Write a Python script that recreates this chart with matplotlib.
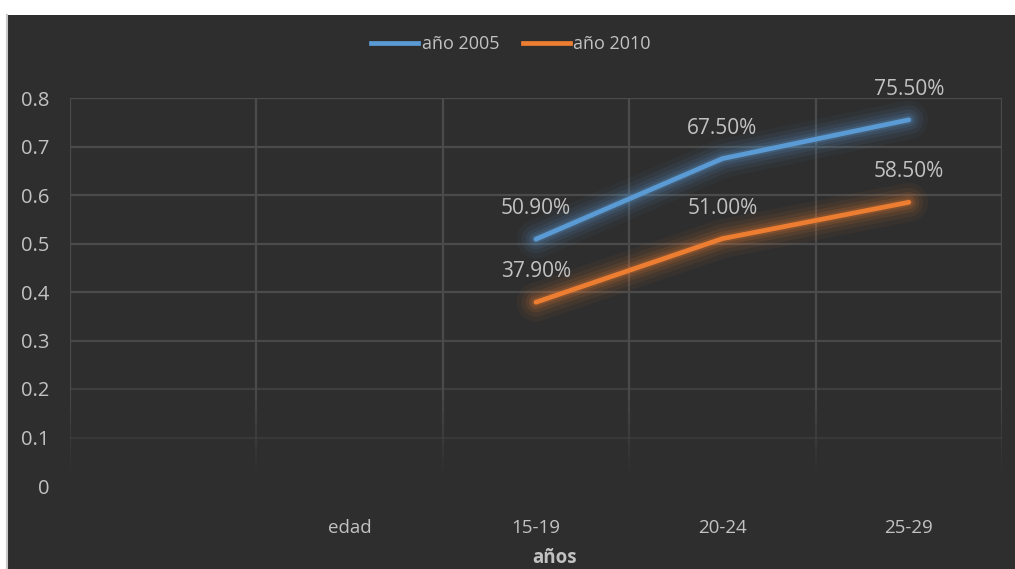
import numpy as np
import matplotlib
matplotlib.use("Agg")
import matplotlib.pyplot as plt
from matplotlib.patches import Rectangle
from matplotlib.lines import Line2D

# ---- data ----
categories = ["", "edad", "15-19", "20-24", "25-29"]
age_groups = ["15-19", "20-24", "25-29"]
serie_2005 = [0.509, 0.675, 0.755]
serie_2010 = [0.379, 0.510, 0.585]
labels_2005 = ["50.90%", "67.50%", "75.50%"]
labels_2010 = ["37.90%", "51.00%", "58.50%"]
y_ticks = [0, 0.1, 0.2, 0.3, 0.4, 0.5, 0.6, 0.7, 0.8]
y_tick_labels = ["0", "0.1", "0.2", "0.3", "0.4", "0.5", "0.6", "0.7", "0.8"]

BG = "#2e2e2e"
GRID = "#4b4b4b"
TEXT = "#c2c2c2"
BLUE = "#5b9bd5"
ORANGE = "#ed7d31"
FONT = "Open Sans"

W, H = 1015, 569
fig = plt.figure(figsize=(W / 100, H / 100), dpi=100, facecolor="white")

# dark chart panel with a thin grey rule on the left edge
fig.patches.append(Rectangle((8 / W, 0), 1 - 8 / W, 1 - 15 / H,
                             transform=fig.transFigure, facecolor=BG,
                             edgecolor="none", zorder=-5))
fig.add_artist(Line2D([7 / W, 7 / W], [0, 1 - 15 / H], transform=fig.transFigure,
                      color="#c8c8c8", lw=1.5, zorder=-4))

ax = fig.add_axes([70 / W, (H - 486) / H, (1002 - 70) / W, (486 - 98) / H])
ax.set_zorder(2)
ax.set_facecolor("none")
ax.set_xlim(-0.5, len(categories) - 0.5)
ax.set_ylim(0, 0.8)
for s in ax.spines.values():
    s.set_visible(False)

# horizontal grid, fading towards the bottom
h_alpha = {0.1: 0.35, 0.2: 0.6, 0.3: 0.9}
for yv in y_ticks[1:]:
    ax.axhline(yv, color=GRID, lw=1.6, alpha=h_alpha.get(yv, 1.0), zorder=1)

# vertical category separators, fading towards the bottom
xs = np.arange(-0.5, len(categories), 1.0)
ax.vlines(xs, 0.2, 0.8, color=GRID, lw=1.6, zorder=1)
steps = np.linspace(0.2, 0.035, 8)
for i in range(len(steps) - 1):
    a = 0.9 * (1 - i / (len(steps) - 1))
    ax.vlines(xs, steps[i + 1], steps[i], color=GRID, lw=1.6, alpha=a, zorder=1)

# lines with soft glow
pos = [categories.index(c) for c in age_groups]
for vals, col in [(serie_2005, BLUE), (serie_2010, ORANGE)]:
    for lw, a in [(28, 0.05), (21, 0.07), (15, 0.10), (10, 0.14), (6, 0.2)]:
        ax.plot(pos, vals, color=col, lw=lw, alpha=a, solid_capstyle="round",
                solid_joinstyle="round", zorder=2)
    ax.plot(pos, vals, color=col, lw=3.4, solid_capstyle="round",
            solid_joinstyle="round", zorder=3)

for vals, labs in [(serie_2005, labels_2005), (serie_2010, labels_2010)]:
    for x, v, t in zip(pos, vals, labs):
        ax.annotate(t, (x, v), xytext=(0, 22), textcoords="offset points",
                    ha="center", va="center", color=TEXT, fontsize=15,
                    family=FONT, zorder=4)

ax.set_xticks(range(len(categories)))
ax.set_xticklabels(categories, family=FONT, fontsize=13.5, color=TEXT)
ax.set_yticks(y_ticks)
ax.set_yticklabels(y_tick_labels, family=FONT, fontsize=14.5, color=TEXT)
ax.tick_params(axis="x", length=0, pad=24)
ax.tick_params(axis="y", length=0, pad=15)

fig.text(555 / W, 1 - 558 / H, "años", ha="center", va="center",
         family=FONT, fontsize=13.5, fontweight="bold", color=TEXT)

handles = [Line2D([], [], color=BLUE, lw=3.4), Line2D([], [], color=ORANGE, lw=3.4)]
fig.legend(handles, ["año 2005", "año 2010"], loc="center",
           bbox_to_anchor=(511 / W, 1 - 44 / H), ncol=2, frameon=False,
           prop={"family": FONT, "size": 13}, labelcolor=TEXT,
           handlelength=2.6, handletextpad=0.2, columnspacing=1.3)

fig.savefig("out.png", dpi=100, facecolor=fig.get_facecolor())
